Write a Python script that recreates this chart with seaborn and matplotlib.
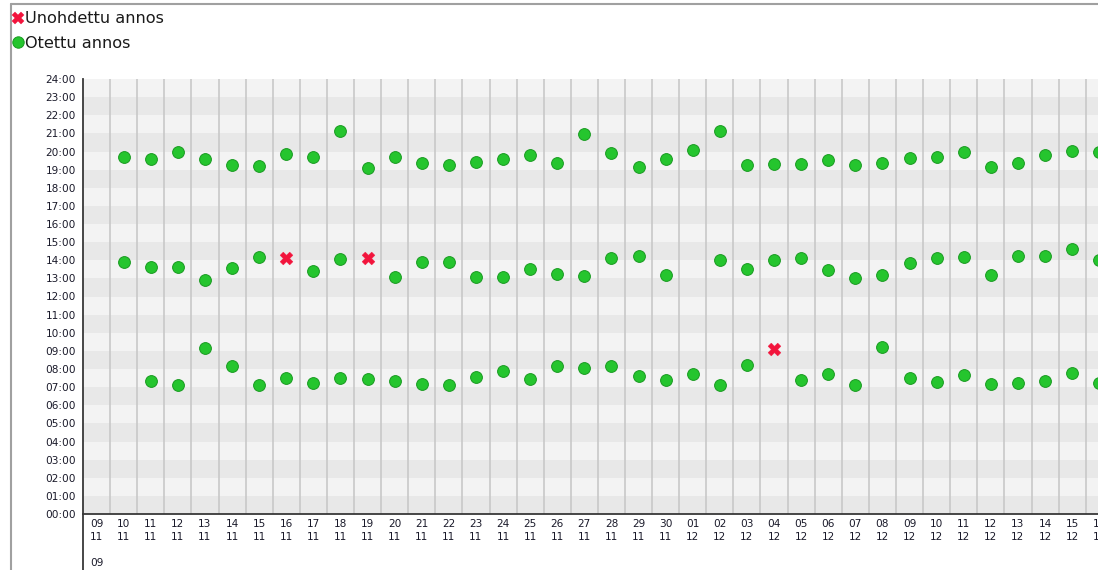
import matplotlib
matplotlib.use("Agg")
import matplotlib.pyplot as plt
from matplotlib.lines import Line2D
import matplotlib.transforms as mtransforms
import seaborn as sns
import pandas as pd

# ---- data -------------------------------------------------------------
days = ["09", "10", "11", "12", "13", "14", "15", "16", "17", "18", "19",
        "20", "21", "22", "23", "24", "25", "26", "27", "28", "29", "30",
        "01", "02", "03", "04", "05", "06", "07", "08", "09", "10", "11",
        "12", "13", "14", "15", "16"]
months = ["11"] * 22 + ["12"] * 16
year_label = "09"

# dose times in decimal hours (None = no dose recorded)
morning = [None, None, 7.34, 7.12, 9.16, 8.17, 7.12, 7.50, 7.23, 7.50, 7.45,
           7.34, 7.17, 7.12, 7.56, 7.89, 7.45, 8.17, 8.06, 8.17, 7.63, 7.39,
           7.72, 7.10, 8.24, None, 7.39, 7.72, 7.12, 9.21, 7.50, 7.28, 7.67,
           7.17, 7.25, 7.34, 7.76, 7.21]
midday = [None, 13.90, 13.63, 13.63, 12.91, 13.57, 14.18, None, 13.41, 14.07,
          None, 13.08, 13.90, 13.90, 13.08, 13.08, 13.52, 13.24, 13.13, 14.12,
          14.23, 13.19, None, 14.01, 13.52, 14.01, 14.12, 13.46, 13.02, 13.19,
          13.85, 14.12, 14.18, 13.19, 14.23, 14.23, 14.60, 14.01]
evening = [None, 19.70, 19.59, 19.97, 19.59, 19.26, 19.20, 19.86, 19.70, 21.13,
           19.09, 19.70, 19.37, 19.26, 19.42, 19.57, 19.80, 19.38, 20.97, 19.94,
           19.17, 19.60, 20.08, 21.13, 19.26, 19.31, 19.31, 19.53, 19.26, 19.37,
           19.64, 19.70, 19.97, 19.17, 19.38, 19.80, 20.03, 19.97]

# missed doses: index of day and scheduled time
missed_day_idx = [7, 10, 25]
missed_time = [14.12, 14.12, 9.10]

label_taken = "Otettu annos"
label_missed = "Unohdettu annos"

# ---- build tables -----------------------------------------------------
rows = []
for series in (morning, midday, evening):
    for i, t in enumerate(series):
        if t is not None:
            rows.append({"day": i, "time": t})
taken = pd.DataFrame(rows)
missed = pd.DataFrame({"day": missed_day_idx, "time": missed_time})

# ---- figure -----------------------------------------------------------
sns.set_style("white")
plt.rcParams["font.family"] = ["DejaVu Sans"]

W, H = 1098, 570
fig = plt.figure(figsize=(W / 100, H / 100), dpi=100)
fig.patch.set_facecolor("white")

n = len(days)
band = 27.1
ax = fig.add_axes([83 / W, (H - 514) / H, band * n / W, 435 / H])
ax.set_facecolor("#f2f2f2")

# hour bands
for h in range(24):
    ax.axhspan(h, h + 1, color="#e8e8e8" if h % 2 == 0 else "#f3f3f3",
               lw=0, zorder=0)
# vertical day separators
for i in range(n):
    ax.axvline(i + 0.5, color="#c8c8c8", lw=1.2, zorder=1)

green_face = "#25c52e"
green_edge = "#189a20"
sns.scatterplot(data=taken, x="day", y="time", ax=ax, marker="o", s=72,
                color=green_face, edgecolor=green_edge, linewidth=0.7,
                zorder=3, legend=False)
sns.scatterplot(data=missed, x="day", y="time", ax=ax, marker="X", s=85,
                color="#f2143c", edgecolor="#f2143c", linewidth=0.3,
                zorder=3, legend=False)

ax.set_xlim(-0.5, n - 0.5)
ax.set_ylim(0, 24)
ax.set_yticks(range(25))
ax.set_yticklabels([f"{h:02d}:00" for h in range(25)])
ax.set_xticks(range(n))
ax.set_xticklabels([f"{d}\n{m}" for d, m in zip(days, months)],
                   linespacing=1.45)
ax.tick_params(axis="both", length=0, labelsize=7.6, colors="#1a1a2a")
ax.tick_params(axis="x", pad=3.5)
ax.tick_params(axis="y", pad=5)
ax.set_xlabel("")
ax.set_ylabel("")

for side in ("top", "right"):
    ax.spines[side].set_visible(False)
for side in ("left", "bottom"):
    ax.spines[side].set_color("#383838")
    ax.spines[side].set_linewidth(1.3)
    ax.spines[side].set_zorder(5)

# year below first date + extended left line
trans = mtransforms.blended_transform_factory(ax.transData, fig.transFigure)
ax.text(0, 1 - 563 / H, year_label, transform=trans, ha="center",
        va="center", fontsize=7.6, color="#1a1a2a")
ax.add_line(Line2D([-0.5, -0.5], [0, 1 - 514 / H], transform=trans,
                   color="#383838", lw=1.3, clip_on=False))

# outer frame
fig.add_artist(Line2D([11 / W, 11 / W], [0, 1 - 4 / H], color="#a0a0a0",
                      lw=1.5, transform=fig.transFigure))
fig.add_artist(Line2D([11 / W, 1], [1 - 4 / H, 1 - 4 / H], color="#a0a0a0",
                      lw=1.5, transform=fig.transFigure))

# legend
handles = [
    Line2D([], [], linestyle="none", marker="X", markersize=9,
           color="#f2143c", markeredgewidth=0.3, label=label_missed),
    Line2D([], [], linestyle="none", marker="o", markersize=8.2,
           markerfacecolor=green_face, markeredgecolor=green_edge,
           markeredgewidth=0.7, label=label_taken),
]
fig.legend(handles=handles, loc="upper left",
           bbox_to_anchor=(11 / W, 1 - 9 / H), frameon=False,
           fontsize=11.6, handlelength=0.55, handletextpad=0.17,
           borderpad=0.15, borderaxespad=0, labelspacing=0.57,
           labelcolor="#1a1a1a")

fig.savefig("out.png", dpi=100, facecolor="white")
